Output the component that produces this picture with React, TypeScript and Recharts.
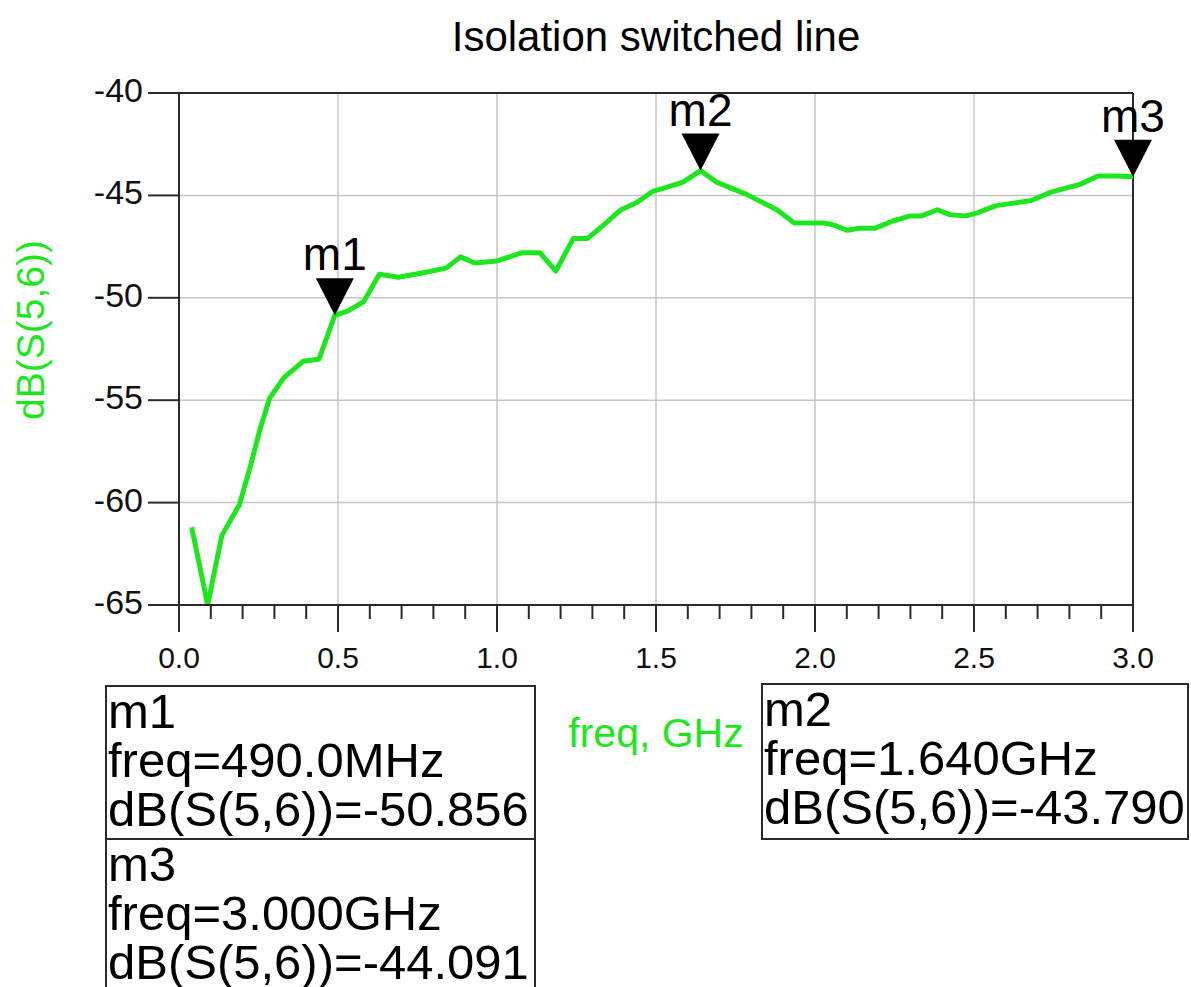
import React from "react"
import {
  LineChart,
  Line,
  XAxis,
  YAxis,
  ReferenceLine,
  ReferenceDot,
  Label,
} from "recharts"

// frequency (GHz) and dB(S(5,6))
const freqGHz = [
  0.04, 0.09, 0.135, 0.19, 0.225, 0.255, 0.285, 0.33, 0.39, 0.44, 0.49, 0.53,
  0.58, 0.63, 0.69, 0.76, 0.84, 0.885, 0.93, 1.0, 1.08, 1.135, 1.185, 1.24,
  1.285, 1.335, 1.39, 1.44, 1.49, 1.535, 1.585, 1.64, 1.69, 1.785, 1.88, 1.935,
  2.03, 2.06, 2.1, 2.14, 2.19, 2.245, 2.3, 2.335, 2.385, 2.425, 2.475, 2.51,
  2.57, 2.68, 2.74, 2.835, 2.89, 2.95, 3.0,
]
const s56dB = [
  -61.2, -65.0, -61.6, -60.1, -58.2, -56.4, -54.9, -53.9, -53.1, -53.0, -50.856,
  -50.65, -50.2, -48.85, -49.0, -48.8, -48.55, -48.0, -48.3, -48.2, -47.8,
  -47.8, -48.7, -47.1, -47.1, -46.45, -45.7, -45.35, -44.8, -44.6, -44.35,
  -43.79, -44.35, -44.95, -45.7, -46.35, -46.35, -46.45, -46.7, -46.6, -46.6,
  -46.25, -46.0, -46.0, -45.7, -45.95, -46.0, -45.85, -45.5, -45.25, -44.85,
  -44.45, -44.05, -44.05, -44.091,
]

const xMajorTicks = [0, 0.5, 1.0, 1.5, 2.0, 2.5, 3.0]
const xAllTicks = [
  0, 0.1, 0.2, 0.3, 0.4, 0.5, 0.6, 0.7, 0.8, 0.9, 1.0, 1.1, 1.2, 1.3, 1.4, 1.5,
  1.6, 1.7, 1.8, 1.9, 2.0, 2.1, 2.2, 2.3, 2.4, 2.5, 2.6, 2.7, 2.8, 2.9, 3.0,
]
const yTicks = [-65, -60, -55, -50, -45, -40]

const markerNames = ["m1", "m2", "m3"]
const markerFreqs = [0.49, 1.64, 3.0]
const markerValues = [-50.856, -43.79, -44.091]

const data = freqGHz.map((f, i) => ({ freq: f, db: s56dB[i] }))

const GREEN = "#1ee61e"
const FRAME = "#2a2a2a"
const GRID = "#c4c4c4"
const FONT = '"Liberation Sans", Arial, sans-serif'

const fmtFreq = (f: number) =>
  f < 1 ? `${(f * 1000).toFixed(1)}MHz` : `${f.toFixed(3)}GHz`

function XTick(props: any) {
  const { x, y, payload } = props
  const major = xMajorTicks.includes(payload.value)
  return (
    <g>
      <line x1={x} x2={x} y1={y} y2={y + (major ? 27 : 14)} stroke={FRAME} strokeWidth={2} />
      {major && (
        <text x={x} y={y + 52} textAnchor="middle" dominantBaseline="central" fontSize={30} fill="#111" fontFamily={FONT}>
          {payload.value.toFixed(1)}
        </text>
      )}
    </g>
  )
}

function YTick(props: any) {
  const { x, y, payload } = props
  return (
    <text x={x} y={y - 3} textAnchor="end" dominantBaseline="central" fontSize={34} fill="#111" fontFamily={FONT}>
      {payload.value}
    </text>
  )
}

function Marker(props: any) {
  const { cx, cy, name } = props
  return (
    <g>
      <polygon points={`${cx},${cy} ${cx - 19},${cy - 37} ${cx + 19},${cy - 37}`} fill="#000" />
      <text x={cx} y={cy - 45} textAnchor="middle" fontSize={46} fill="#000" fontFamily={FONT}>
        {name}
      </text>
    </g>
  )
}

function MarkerText({ i }: { i: number }) {
  const line = { fontSize: 49, lineHeight: "49px", paddingLeft: 1, whiteSpace: "nowrap" as const }
  return (
    <>
      <div style={line}>{markerNames[i]}</div>
      <div style={line}>freq={fmtFreq(markerFreqs[i])}</div>
      <div style={line}>dB(S(5,6))={markerValues[i].toFixed(3)}</div>
    </>
  )
}

export default function App() {
  return (
    <div
      style={{
        position: "absolute",
        left: 0,
        top: 0,
        width: 1191,
        height: 987,
        overflow: "hidden",
        background: "#fff",
        fontFamily: FONT,
        color: "#000",
      }}
    >
      <div
        style={{
          position: "absolute",
          left: 0,
          width: 1312,
          top: 16,
          textAlign: "center",
          fontSize: 42,
          lineHeight: "42px",
        }}
      >
        Isolation switched line
      </div>

      <LineChart
        width={1191}
        height={987}
        data={data}
        margin={{ top: 93, right: 58, bottom: 302, left: 79 }}
      >
        <XAxis
          dataKey="freq"
          type="number"
          domain={[0, 3]}
          ticks={xAllTicks}
          interval={0}
          height={80}
          tickSize={0}
          tickMargin={0}
          tickLine={false}
          tick={<XTick />}
          axisLine={{ stroke: FRAME, strokeWidth: 2 }}
          allowDataOverflow
        >
          <Label
            content={(p: any) => {
              const vb = p.viewBox
              return (
                <text x={vb.x + vb.width / 2} y={747} textAnchor="middle" fontSize={41} fill={GREEN} fontFamily={FONT}>
                  freq, GHz
                </text>
              )
            }}
          />
        </XAxis>
        <YAxis
          type="number"
          domain={[-65, -40]}
          ticks={yTicks}
          interval={0}
          width={100}
          tickSize={31}
          tickMargin={5}
          tickLine={{ stroke: FRAME, strokeWidth: 2 }}
          tick={<YTick />}
          axisLine={{ stroke: FRAME, strokeWidth: 2 }}
          allowDataOverflow
        >
          <Label
            content={() => {
              const cy = 330
              return (
                <text
                  x={30}
                  y={cy}
                  transform={`rotate(-90, 30, ${cy})`}
                  textAnchor="middle"
                  dominantBaseline="central"
                  fontSize={39}
                  fill={GREEN}
                  fontFamily={FONT}
                >
                  dB(S(5,6))
                </text>
              )
            }}
          />
        </YAxis>

        {xMajorTicks.slice(1, -1).map((v) => (
          <ReferenceLine key={`gx${v}`} x={v} stroke={GRID} strokeWidth={1.5} />
        ))}
        {yTicks.slice(1, -1).map((v) => (
          <ReferenceLine key={`gy${v}`} y={v} stroke={GRID} strokeWidth={1.5} />
        ))}
        <ReferenceLine y={-40} stroke={FRAME} strokeWidth={2} />
        <ReferenceLine x={3} stroke={FRAME} strokeWidth={2} />

        <Line
          type="linear"
          dataKey="db"
          stroke={GREEN}
          strokeWidth={5}
          strokeLinejoin="round"
          dot={false}
          activeDot={false}
          isAnimationActive={false}
        />

        {markerNames.map((n, i) => (
          <ReferenceDot
            key={n}
            x={markerFreqs[i]}
            y={markerValues[i]}
            ifOverflow="visible"
            shape={(p: any) => <Marker cx={p.cx} cy={p.cy} name={n} />}
          />
        ))}
      </LineChart>

      {/* marker readouts */}
      <div
        style={{
          position: "absolute",
          left: 105,
          top: 685,
          width: 431,
          height: 330,
          boxSizing: "border-box",
          border: `2px solid ${FRAME}`,
        }}
      >
        <div style={{ height: 151, borderBottom: `2px solid ${FRAME}` }}>
          <MarkerText i={0} />
        </div>
        <div>
          <MarkerText i={2} />
        </div>
      </div>
      <div
        style={{
          position: "absolute",
          left: 761,
          top: 683,
          width: 428,
          height: 157,
          boxSizing: "border-box",
          border: `2px solid ${FRAME}`,
        }}
      >
        <MarkerText i={1} />
      </div>
    </div>
  )
}
